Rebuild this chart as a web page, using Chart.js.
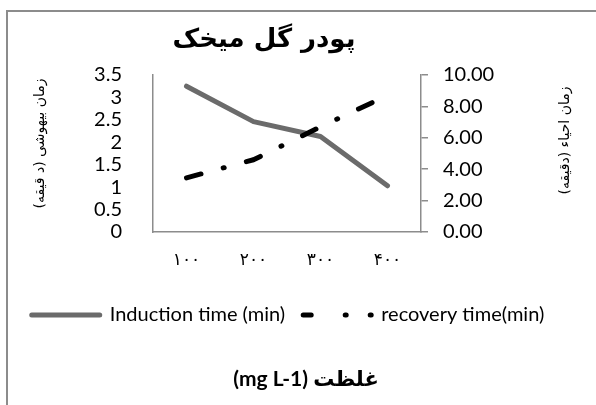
<!DOCTYPE html>
<html>
<head>
<meta charset="utf-8">
<script src="https://cdn.jsdelivr.net/npm/chart.js@4.4.1/dist/chart.umd.min.js"></script>
<style>
  html, body { margin: 0; padding: 0; background: #fff; overflow: hidden; }
  #frame { position: absolute; left: 6px; top: 10px; width: 700px; height: 500px;
           border-left: 2px solid #8c8c8c; border-top: 2px solid #8c8c8c; }
  #chart { position: absolute; left: 0; top: 0; }
</style>
</head>
<body>
<div id="frame"></div>
<canvas id="chart" width="596" height="405"></canvas>
<script>
// values
const doses = ['۱۰۰', '۲۰۰', '۳۰۰', '۴۰۰'];
const inductionTime = [3.25, 2.46, 2.13, 1.03];
const recoveryTime = [3.45, 4.6, 6.7, 8.7];

const chartTitle = 'پودر گل میخک';
const xTitle = '\u202Bغلظت (mg L-1)\u202C';
const leftTitle = 'زمان بیهوشی (د قیقه)';
const rightTitle = 'زمان احیاء (دقیقه)';

const axisGray = '#8c8c8c';
const lineGray = '#6b6b6b';

// both side titles read bottom-to-top, so draw them here
const sideTitles = {
  id: 'sideTitles',
  afterDraw(chart) {
    const ctx = chart.ctx;
    const mid = (chart.chartArea.top + chart.chartArea.bottom) / 2;
    ctx.save();
    ctx.font = "14px 'DejaVu Sans'";
    ctx.fillStyle = '#000';
    ctx.textAlign = 'center';
    ctx.textBaseline = 'middle';
    ctx.direction = 'rtl';
    [[leftTitle, chart.scales.y.left + 40, mid - 10],
     [rightTitle, chart.scales.y1.right - 31, mid - 13]].forEach(([text, x, y]) => {
      ctx.save();
      ctx.translate(x, y);
      ctx.rotate(-Math.PI / 2);
      ctx.fillText(text, 0, 0);
      ctx.restore();
    });
    ctx.restore();
  }
};

// excel did not center these on the canvas
const shiftBoxes = {
  id: 'shiftBoxes',
  afterLayout(chart) {
    const move = (box, dx) => { if (box) { box.left += dx; box.right += dx; } };
    move(chart.titleBlock, -34);
    move(chart.legend, -10);
    move(chart.boxes.find(b => b.options && b.options.text === xTitle), 8);
  }
};

const ctx = document.getElementById('chart').getContext('2d');
const chart = new Chart(ctx, {
  type: 'line',
  data: {
    labels: doses,
    datasets: [{
      label: 'Induction time (min)',
      data: inductionTime,
      yAxisID: 'y',
      order: 1,
      borderColor: lineGray,
      backgroundColor: lineGray,
      borderWidth: 5,
      borderCapStyle: 'round',
      borderJoinStyle: 'round',
      pointRadius: 0,
      tension: 0
    }, {
      label: 'recovery time(min)',
      data: recoveryTime,
      yAxisID: 'y1',
      order: 0,
      borderColor: '#000',
      backgroundColor: '#000',
      borderWidth: 5,
      borderDash: [15, 23, 1, 23],
      borderCapStyle: 'round',
      borderJoinStyle: 'round',
      pointRadius: 0,
      tension: 0
    }]
  },
  options: {
    responsive: false,
    animation: false,
    devicePixelRatio: 1,
    layout: { padding: 0 },
    scales: {
      x: {
        offset: true,
        grid: { display: false },
        border: { display: true, color: axisGray, width: 1.5 },
        ticks: { font: { family: "'DejaVu Sans'", size: 17 }, color: '#000', padding: 10, maxRotation: 0 },
        afterFit: s => { s.height = 55; }
      },
      y: {
        position: 'left',
        min: 0,
        max: 3.5,
        grid: { display: false },
        border: { display: true, color: axisGray, width: 1.5 },
        ticks: { stepSize: 0.5, autoSkip: false, font: { family: 'Lato', size: 20, lineHeight: 1 }, color: '#000', padding: 23,
                 callback: v => String(v) },
        afterFit: s => { s.width = 153; }
      },
      y1: {
        position: 'right',
        min: 0,
        max: 10,
        grid: { display: true, drawOnChartArea: false, drawTicks: true, tickLength: 7, color: axisGray, lineWidth: 1.5 },
        border: { display: true, color: axisGray, width: 1.5 },
        ticks: { stepSize: 2, autoSkip: false, font: { family: 'Lato', size: 20, lineHeight: 1 }, color: '#000', padding: 15,
                 callback: v => v.toFixed(2) },
        afterFit: s => { s.width = 175; }
      }
    },
    plugins: {
      title: {
        display: true,
        text: chartTitle,
        color: '#000',
        font: { family: "'DejaVu Sans'", size: 26, weight: 'bold' },
        padding: { top: 24.4, bottom: 19.4 }
      },
      subtitle: {
        display: true,
        position: 'bottom',
        text: xTitle,
        color: '#000',
        font: { family: "Lato, 'DejaVu Sans'", size: 21, weight: 'bold' },
        padding: { top: 31.4, bottom: 13.4 }
      },
      legend: {
        position: 'bottom',
        labels: {
          usePointStyle: true,
          pointStyle: 'line',
          pointStyleWidth: 68,
          padding: 18,
          color: '#000',
          font: { family: 'Lato', size: 20 },
          generateLabels(chart) {
            const items = Chart.defaults.plugins.legend.labels.generateLabels(chart);
            items.sort((a, b) => a.datasetIndex - b.datasetIndex);
            items.forEach(it => { it.lineCap = 'round'; it.lineWidth = 5; it.lineDash = []; });
            items[1].lineDash = [8, 34, 1, 24, 1, 100];
            return items;
          }
        }
      },
      tooltip: { enabled: false }
    }
  },
  plugins: [sideTitles, shiftBoxes]
});
</script>
</body>
</html>
